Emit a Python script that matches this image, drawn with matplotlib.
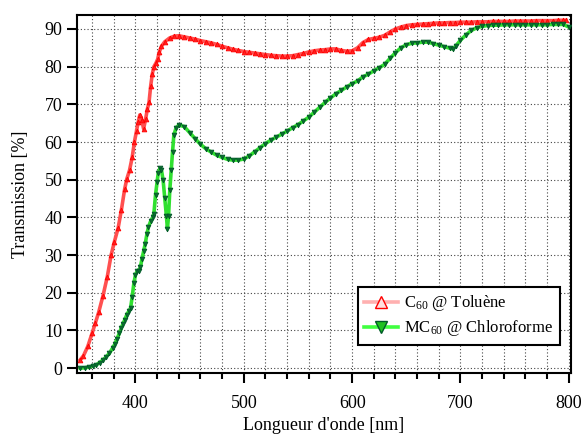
import matplotlib
matplotlib.use("Agg")
import matplotlib.pyplot as plt
from matplotlib.ticker import MultipleLocator

# Transmission spectra
wl_c60 = [349, 352, 356, 360, 363, 366, 370, 374, 377.5, 380.5, 384, 387, 390, 392,
          394.5, 397, 399, 401, 402.5, 404, 405.8, 407.5, 409.3, 411, 412.5, 414,
          415.5, 417, 419, 420.5, 422, 424, 427, 431.5, 436,
          440, 445, 450, 455, 460, 465, 470, 475, 480, 485, 490, 495, 500, 505, 510,
          515, 520, 525, 530, 535, 540, 545, 550, 555, 560, 565, 570, 575, 580, 585,
          590, 595, 600, 605, 610, 615, 620, 625, 630, 635, 640, 645, 650, 655, 660,
          665, 670, 675, 680, 685, 690, 695, 700, 705, 710, 715, 720, 725, 730, 735,
          740, 745, 750, 755, 760, 765, 770, 775, 780, 785, 790, 795, 797]
tr_c60 = [2.2, 3.3, 5.8, 9.3, 12.0, 14.8, 19.2, 24.3, 30.0, 33.5, 37.2, 42.0, 47.5, 50.2,
          52.5, 56.0, 60.0, 63.0, 65.3, 67.2, 65.8, 63.5, 66.0, 68.8, 70.5, 74.8,
          78.0, 80.0, 81.0, 82.0, 83.9, 85.4, 86.6, 87.6, 88.1,
          88.2, 87.9, 87.6, 87.3, 86.9, 86.6, 86.3, 85.9, 85.4, 85.0, 84.6, 84.3, 84.0, 83.8, 83.6,
          83.4, 83.2, 83.0, 82.9, 82.8, 82.8, 82.9, 83.2, 83.5, 83.9, 84.2, 84.4, 84.5, 84.7, 84.7,
          84.3, 84.1, 84.2, 85.0, 86.4, 87.2, 87.5, 87.8, 88.3, 89.2, 90.0, 90.5, 90.9, 91.1, 91.2,
          91.3, 91.4, 91.5, 91.6, 91.6, 91.7, 91.7, 91.8, 91.8, 91.8, 91.9, 91.9, 91.9, 92.0, 92.0,
          92.0, 92.0, 92.1, 92.1, 92.1, 92.1, 92.2, 92.2, 92.2, 92.2, 92.3, 92.3, 92.3]

wl_mc60 = [349, 353, 357, 361, 364, 367, 370, 373, 376, 379, 381, 383, 385, 387, 388.5,
           390, 392, 394, 395.5, 397, 398.5, 400, 401.5, 403, 404.5, 406, 407.5, 409,
           410.5, 412, 414, 416, 417, 418.5, 420, 421, 422.5, 424, 425.5, 427, 428.5,
           429.5, 430.5, 431.7, 433, 434.2, 435.4, 437.5,
           440, 445, 450, 455, 460, 465, 470, 475, 480, 485, 490, 495, 500, 505, 510,
           515, 520, 525, 530, 535, 540, 545, 550, 555, 560, 565, 570, 575, 580, 585,
           590, 595, 600, 605, 610, 615, 620, 625, 630, 635, 640, 645, 650, 655, 660,
           665, 670, 675, 680, 685, 690, 693, 696, 700, 705, 710, 715, 720, 725, 730,
           735, 740, 745, 750, 755, 760, 765, 770, 775, 780, 785, 790, 795, 800]
tr_mc60 = [0.0, 0.1, 0.3, 0.6, 0.9, 1.5, 2.2, 3.0, 4.0, 5.4, 6.4, 7.8, 9.2, 10.7, 11.8,
           12.8, 14.2, 15.2, 16.0, 19.0, 22.5, 24.8, 25.7, 25.9, 26.8, 29.0, 31.0, 33.0,
           35.5, 37.5, 39.0, 40.0, 41.0, 46.0, 49.5, 51.8, 53.0, 52.5, 49.9, 45.2, 40.5,
           37.0, 40.3, 47.3, 52.5, 57.4, 61.8, 63.8,
           64.5, 64.1, 62.5, 60.9, 59.4, 58.2, 57.3, 56.5, 55.9, 55.4, 55.2, 55.2, 55.5, 56.3, 57.4,
           58.5, 59.6, 60.5, 61.3, 62.1, 62.9, 63.8, 64.6, 65.6, 66.6, 67.9, 69.2, 70.5, 71.7, 72.8,
           73.7, 74.6, 75.5, 76.2, 77.3, 78.0, 78.9, 79.7, 80.6, 82.2, 83.7, 85.0, 85.8, 86.2, 86.3,
           86.5, 86.5, 86.1, 85.7, 85.3, 84.9, 84.7, 85.6, 87.0, 88.4, 89.6, 90.3, 90.7, 90.9, 91.0,
           91.0, 91.1, 91.1, 91.1, 91.1, 91.1, 91.1, 91.1, 91.1, 91.1, 91.2, 91.2, 91.2, 90.5]

labels = [r"C$_{\mathrm{60}}$ @ Toluène", r"MC$_{\mathrm{60}}$ @ Chloroforme"]

plt.rcParams['font.family'] = ['Liberation Serif', 'DejaVu Serif']
plt.rcParams['mathtext.fontset'] = 'custom'
plt.rcParams['mathtext.rm'] = 'Liberation Serif'
plt.rcParams['mathtext.it'] = 'Liberation Serif:italic'

fig = plt.figure(figsize=(5.85, 4.36), dpi=100)
ax = fig.add_axes([0.1316, 0.1452, 0.8444, 0.8204])

ax.plot(wl_c60, tr_c60, color='#ff5050', lw=2.6, marker='^', ms=3.4,
        mfc='#ff2020', mec='#ff0000', mew=0.6, label=labels[0], zorder=3)
ax.plot(wl_mc60, tr_mc60, color='#30e030', lw=2.6, marker='v', ms=3.4,
        mfc='#0e6b32', mec='#005a28', mew=0.6, label=labels[1], zorder=3)

ax.set_xlim(346, 802)
ax.set_ylim(-1.2, 93.7)
ax.xaxis.set_major_locator(MultipleLocator(100))
ax.xaxis.set_minor_locator(MultipleLocator(20))
ax.yaxis.set_major_locator(MultipleLocator(10))

ax.grid(True, which='major', color='#444444', ls=(0, (1, 2)), lw=0.8)
ax.grid(True, which='minor', axis='x', color='#444444', ls=(0, (1, 2)), lw=0.8)
ax.set_axisbelow(True)

ax.tick_params(which='major', direction='out', length=7, width=1.5, labelsize=13)
ax.tick_params(axis='x', which='major', pad=9)
ax.tick_params(which='minor', direction='out', length=4.5, width=1.5)
for s in ax.spines.values():
    s.set_linewidth(1.5)

ax.set_xlabel("Longueur d'onde [nm]", fontsize=13, labelpad=4)
ax.set_ylabel("Transmission [%]", fontsize=13, labelpad=11)

leg = ax.legend(loc='lower right', bbox_to_anchor=(0.978, 0.077), borderaxespad=0,
                fontsize=12, fancybox=False, edgecolor='black', framealpha=1,
                handlelength=2.0, handletextpad=0.4, borderpad=0.4, labelspacing=0.3)
leg.get_frame().set_linewidth(1.5)
hl = leg.legend_handles
hl[0].set_color('#ffb0b0')
hl[0].set_markerfacecolor('#ffe0e0')
hl[0].set_markeredgecolor('#ff0000')
hl[0].set_markeredgewidth(1)
hl[0].set_markersize(8)
hl[1].set_color('#40ff40')
hl[1].set_markerfacecolor('#20c020')
hl[1].set_markeredgecolor('#005a28')
hl[1].set_markeredgewidth(1)
hl[1].set_markersize(8)

fig.savefig('out.png', dpi=100)
